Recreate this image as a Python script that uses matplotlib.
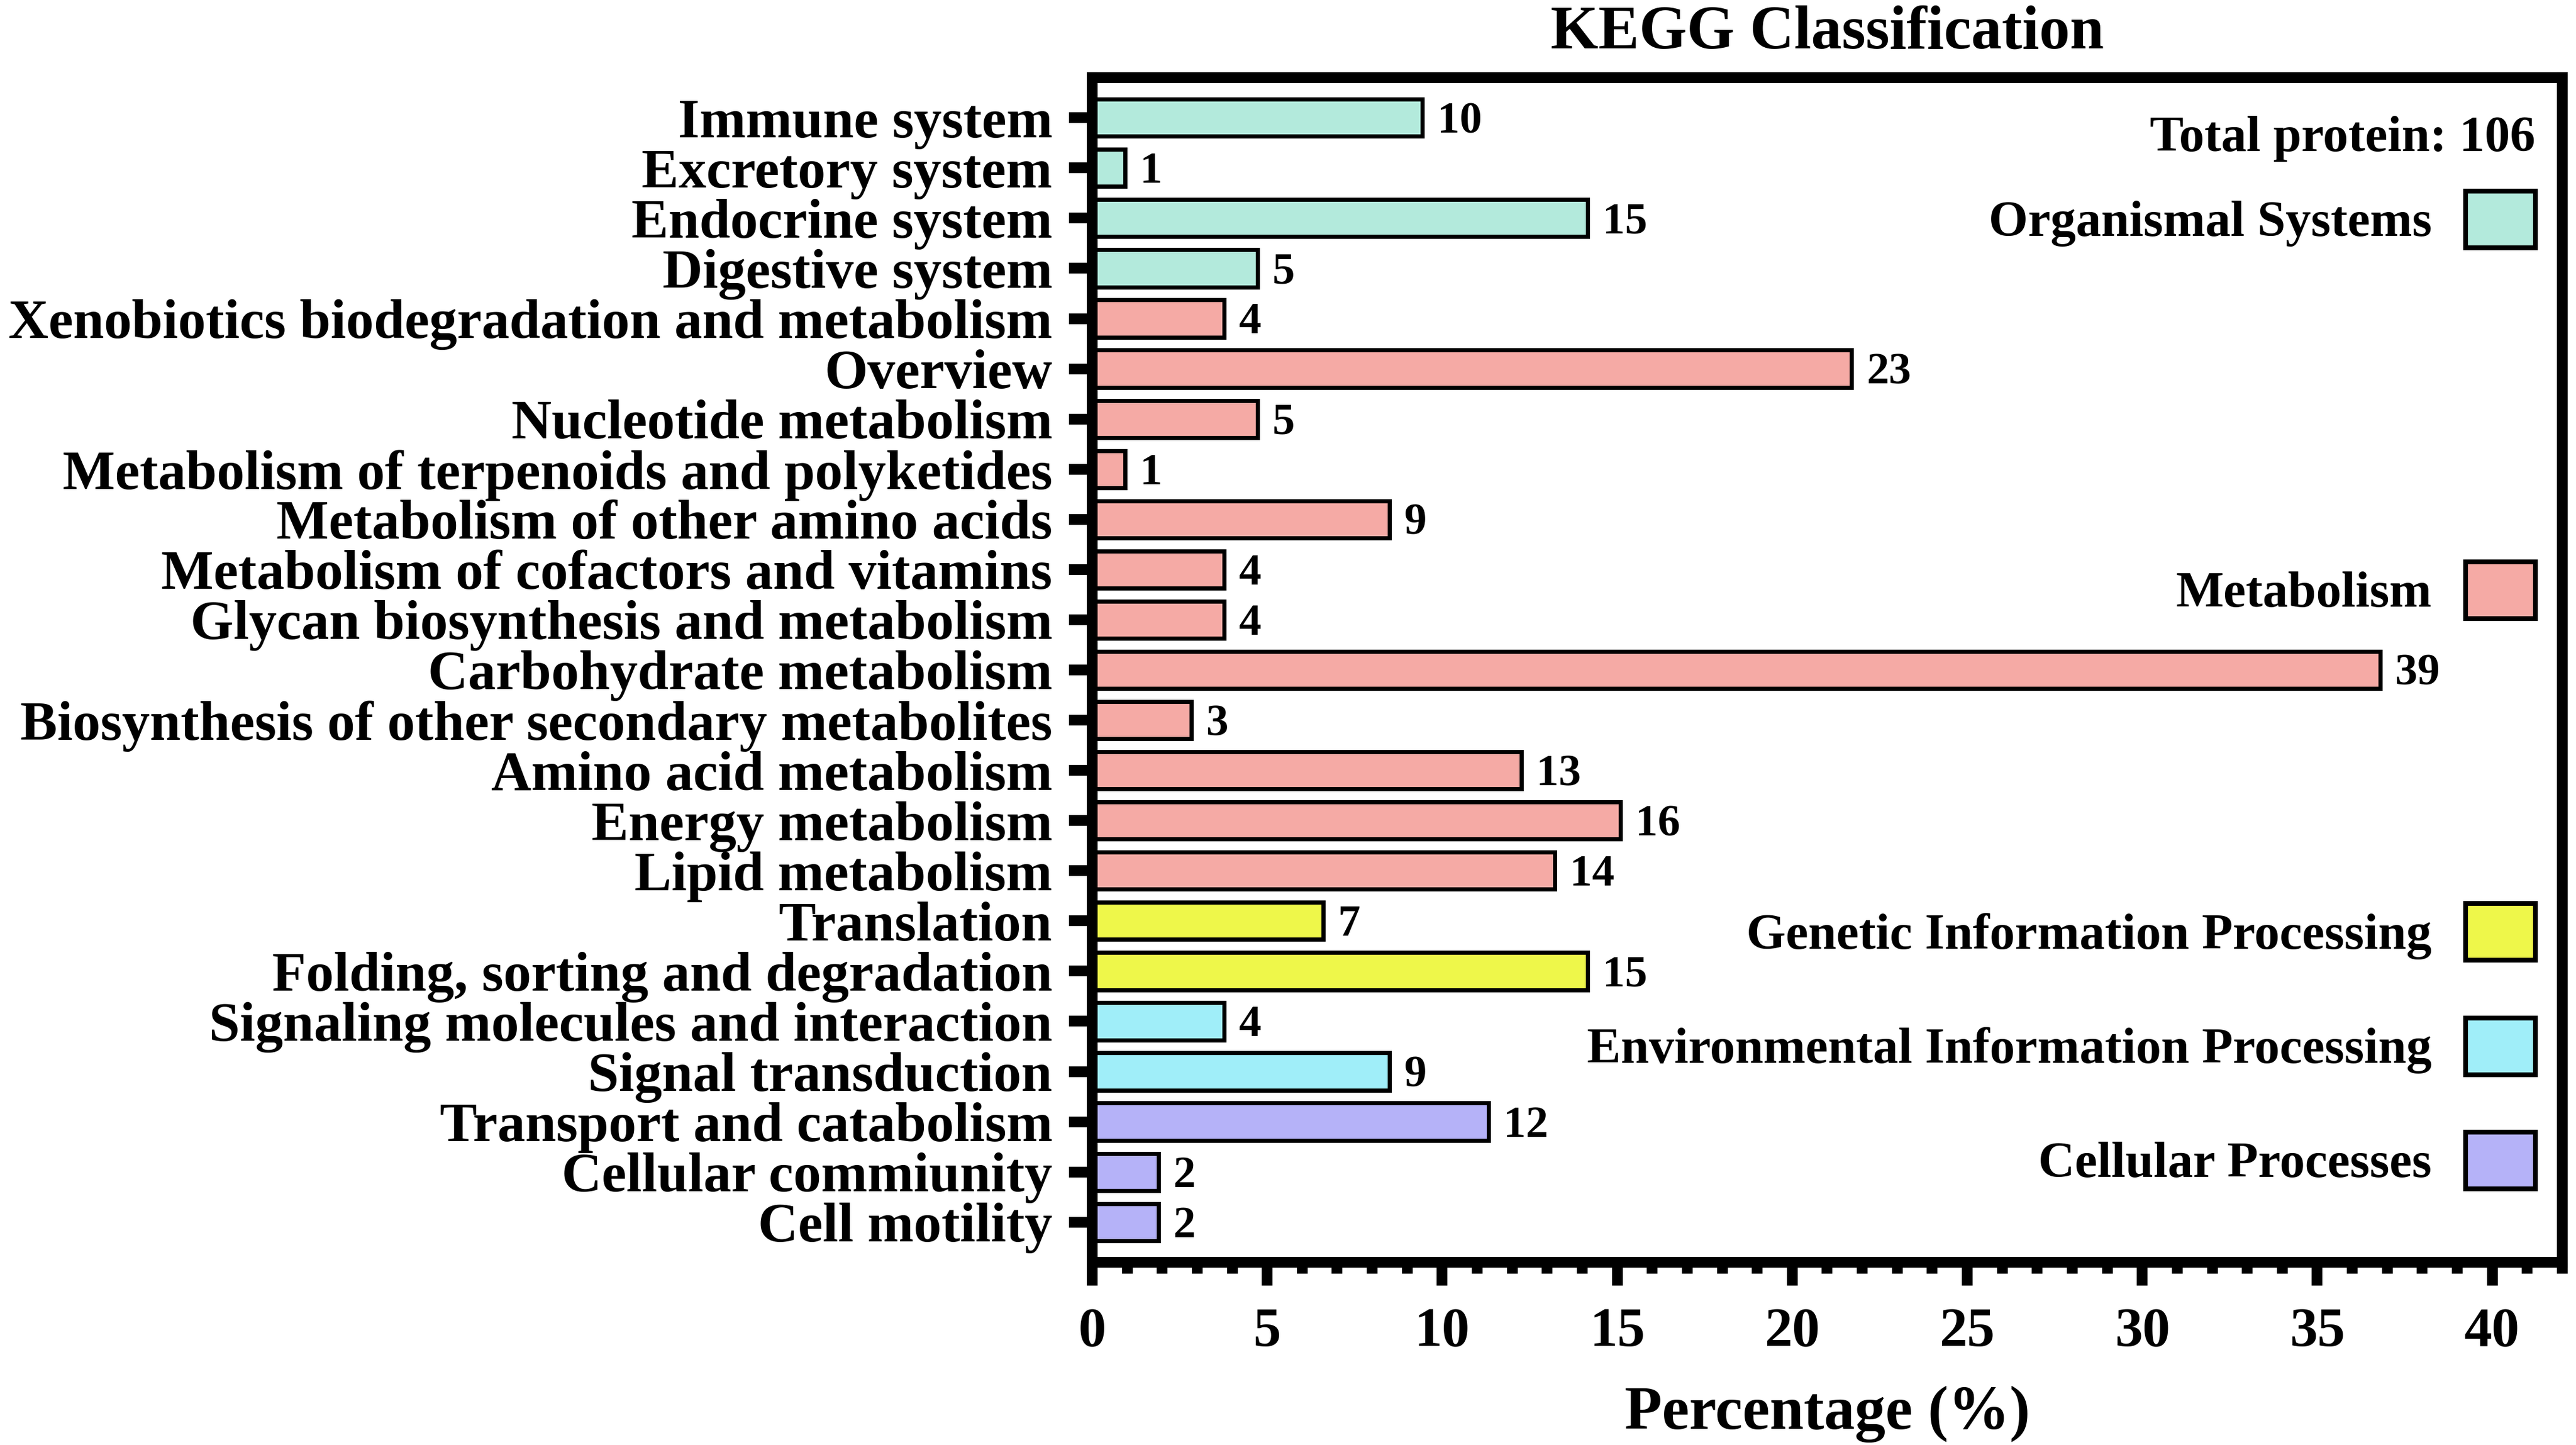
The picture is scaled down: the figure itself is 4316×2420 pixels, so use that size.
import matplotlib
matplotlib.use("Agg")
import matplotlib.pyplot as plt
from matplotlib.patches import Rectangle
from matplotlib.ticker import MultipleLocator

plt.rcParams['font.family'] = ['Liberation Serif', 'DejaVu Serif']
plt.rcParams['font.weight'] = 'bold'

# ---- data ----
categories = [
    "Immune system", "Excretory system", "Endocrine system", "Digestive system",
    "Xenobiotics biodegradation and metabolism", "Overview", "Nucleotide metabolism",
    "Metabolism of terpenoids and polyketides", "Metabolism of other amino acids",
    "Metabolism of cofactors and vitamins", "Glycan biosynthesis and metabolism",
    "Carbohydrate metabolism", "Biosynthesis of other secondary metabolites",
    "Amino acid metabolism", "Energy metabolism", "Lipid metabolism",
    "Translation", "Folding, sorting and degradation",
    "Signaling molecules and interaction", "Signal transduction",
    "Transport and catabolism", "Cellular commiunity", "Cell motility",
]
counts = [10, 1, 15, 5, 4, 23, 5, 1, 9, 4, 4, 39, 3, 13, 16, 14, 7, 15, 4, 9, 12, 2, 2]
groups = ["Organismal Systems"] * 4 + ["Metabolism"] * 12 + \
         ["Genetic Information Processing"] * 2 + \
         ["Environmental Information Processing"] * 2 + ["Cellular Processes"] * 3
total_protein = 106

group_names = ["Organismal Systems", "Metabolism", "Genetic Information Processing",
               "Environmental Information Processing", "Cellular Processes"]
group_colors = ["#b3eadc", "#f5aaa5", "#eef74a", "#a0eef9", "#b5b2f8"]
legend_y = [2.03, 9.41, 16.22, 18.50, 20.77]

percent = [c / total_protein * 100 for c in counts]
cmap = dict(zip(group_names, group_colors))
colors = [cmap[g] for g in groups]

# ---- figure ----
fig = plt.figure(figsize=(43.16, 24.2), dpi=100)
ax = fig.add_axes([0.4240, 0.12645, 0.99467 - 0.4240, 0.94628 - 0.12645])

ypos = list(range(len(categories)))
ax.barh(ypos, percent, height=0.74, color=colors, edgecolor='black', linewidth=5, zorder=2)

for y, p, c in zip(ypos, percent, counts):
    ax.annotate(str(c), xy=(p, y), xytext=(18, -5), textcoords='offset points',
                ha='left', va='center', fontsize=54, fontweight='bold')

ax.set_xlim(0, 42)
ax.set_ylim(len(categories) - 1 + 0.8, -0.8)
ax.set_yticks(ypos)
ax.set_yticklabels(categories, fontsize=67, fontweight='bold')
ax.xaxis.set_major_locator(MultipleLocator(5))
ax.xaxis.set_minor_locator(MultipleLocator(1))
ax.tick_params(axis='x', which='major', length=28, width=13, labelsize=67, pad=26)
ax.tick_params(axis='x', which='minor', length=14, width=13)
ax.tick_params(axis='y', which='major', length=28, width=13, pad=20)
for lab in ax.get_xticklabels():
    lab.set_fontweight('bold')

for s in ax.spines.values():
    s.set_linewidth(13)

ax.set_xlabel("Percentage (%)", fontsize=74, fontweight='bold', labelpad=34)
ax.set_title("KEGG Classification", fontsize=74, fontweight='bold', pad=36)

# legend (custom, inside axes)
ax.text(41.22, 0.42, "Total protein: %d" % total_protein, ha='right', va='center',
        fontsize=61, fontweight='bold')
for name, col, yc in zip(group_names, group_colors, legend_y):
    ax.add_patch(Rectangle((39.24, yc - 0.565), 1.99, 1.13, facecolor=col,
                           edgecolor='black', linewidth=5.8, zorder=3))
    ax.text(38.27, yc + 0.08, name, ha='right', va='center', fontsize=61, fontweight='bold')

fig.savefig("out.png", dpi=100)
